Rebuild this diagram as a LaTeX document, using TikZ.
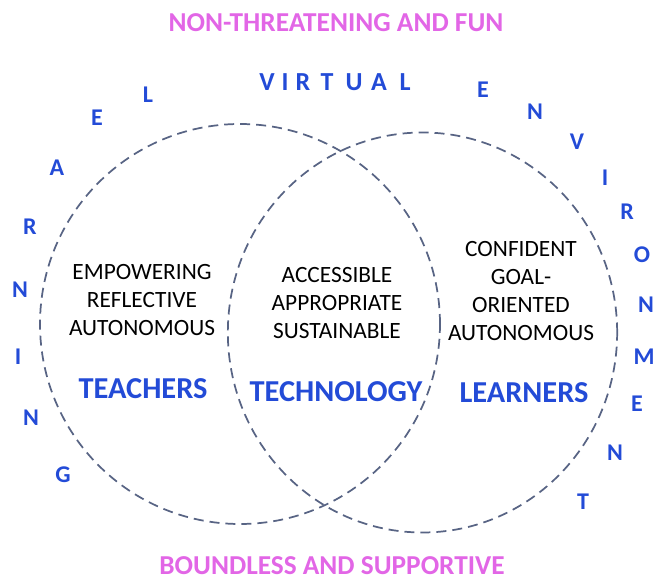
\documentclass[tikz,border=0pt]{standalone}
\usepackage{fontspec}
\setmainfont{Carlito}

\definecolor{vennblue}{RGB}{35,75,215}
\definecolor{vennpink}{RGB}{226,102,230}
\definecolor{venngray}{RGB}{88,100,132}

\tikzset{
  ring/.style={draw=venngray, line width=1.3pt, dash pattern=on 7.5pt off 4.5pt},
  words/.style={align=center, inner sep=0pt, font=\fontsize{17.5pt}{21pt}\selectfont},
  group/.style={text=vennblue, inner sep=0pt, font=\fontsize{22.8pt}{26pt}\selectfont\bfseries},
  letter/.style={text=vennblue, inner sep=0pt, font=\fontsize{18pt}{21pt}\selectfont\bfseries},
  banner/.style={text=vennpink, inner sep=0pt, font=\fontsize{20.5pt}{24pt}\selectfont\bfseries},
}

\begin{document}
\begin{tikzpicture}[x=0.75pt,y=-0.75pt]
  \useasboundingbox (0,0) rectangle (656,584);
  % the two circles
  \coordinate (T) at (240,324);
  \coordinate (L) at (422.5,332.5);
  \draw[ring] (T) circle [radius=150pt];
  \draw[ring] (L) ellipse [x radius=146pt, y radius=150pt];
  % top and bottom lines
  \node[banner] (fun) at (336,23) {NON-THREATENING AND FUN};
  \node[banner] (support) at (332,566) {BOUNDLESS AND SUPPORTIVE};
  % VIRTUAL, spaced out
  \foreach \ch/\x [count=\i] in {V/267,I/285,R/303,T/327,U/354,A/379,L/405}
    \node[letter, font=\fontsize{19.5pt}{22pt}\selectfont\bfseries] (virt\i) at (\x,82) {\ch};
  % LEARNING round the left circle
  \foreach \ch/\x/\y [count=\i] in {L/148/95,E/97/118,A/57/168,R/30/227,N/20/290,I/18/357,N/31/418,G/63/475}
    \node[letter] (learn\i) at (\x,\y) {\ch};
  % ENVIRONMENT round the right circle
  \foreach \ch/\x/\y [count=\i] in {E/483/90,N/535/112,V/577/142,I/605/178,R/627/212,O/642/255,N/646/305,M/644/357,E/637/404,N/615/453,T/583/502}
    \node[letter] (env\i) at (\x,\y) {\ch};
  % inside the circles
  \node[words] (teachwords) at (142,300) {EMPOWERING\\REFLECTIVE\\AUTONOMOUS};
  \node[words] (techwords) at (337,303) {ACCESSIBLE\\APPROPRIATE\\SUSTAINABLE};
  \node[words] (learnwords) at (521,291) {CONFIDENT\\GOAL-\\ORIENTED\\AUTONOMOUS};
  \node[group] (teachers) at (143,389) {TEACHERS};
  \node[group] (technology) at (336,392) {TECHNOLOGY};
  \node[group] (learners) at (524,393) {LEARNERS};
\end{tikzpicture}
\end{document}
